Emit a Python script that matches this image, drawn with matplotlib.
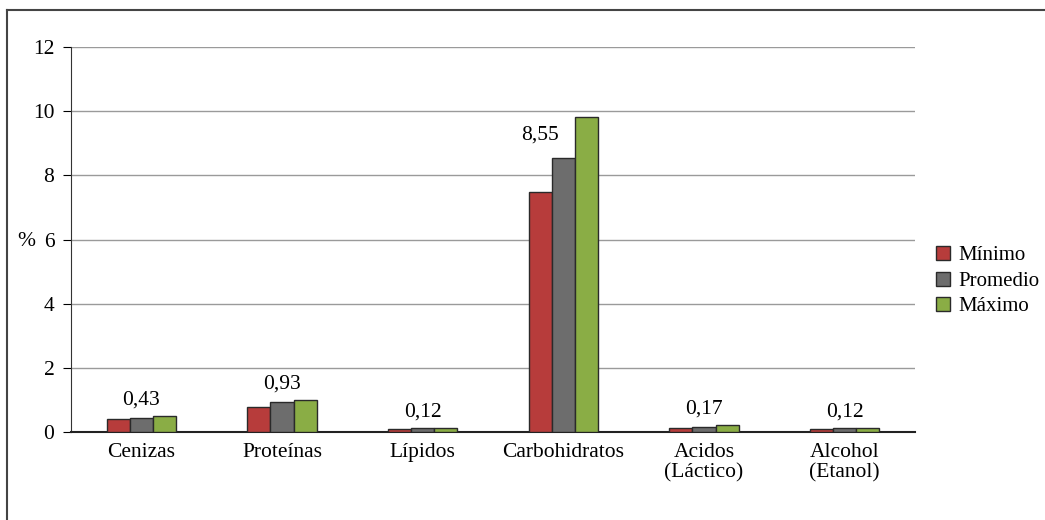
import matplotlib.pyplot as plt
import numpy as np
from matplotlib.lines import Line2D

plt.rcParams['font.family'] = ['Liberation Serif', 'DejaVu Serif']

categorias = ['Cenizas', 'Proteínas', 'Lípidos', 'Carbohidratos', 'Acidos\n(Láctico)', 'Alcohol\n(Etanol)']
minimo = [0.40, 0.78, 0.10, 7.49, 0.13, 0.10]
promedio = [0.43, 0.93, 0.12, 8.55, 0.17, 0.12]
maximo = [0.49, 1.01, 0.14, 9.81, 0.21, 0.14]
etiquetas = ['0,43', '0,93', '0,12', '8,55', '0,17', '0,12']
series = ['Mínimo', 'Promedio', 'Máximo']
colores = ['#B73C3B', '#6D6D6D', '#8AAD45']

fs = 15.5

fig = plt.figure(figsize=(10.45, 5.2), dpi=100)
ax = fig.add_axes([71 / 1045, 1 - 432 / 520, (915 - 71) / 1045, (432 - 47) / 520])

x = np.arange(len(categorias))
w = 0.165
for i, (vals, col) in enumerate(zip([minimo, promedio, maximo], colores)):
    ax.bar(x + (i - 1) * w, vals, w, color=col, edgecolor='#2a2a2a', linewidth=1.0, zorder=3)

# data labels above the "Promedio" bars
for xi, v, lab in zip(x, promedio, etiquetas):
    if v > 5:
        ax.text(xi - 0.03, v + 0.4, lab, ha='right', va='bottom', fontsize=fs)
    else:
        top = max(minimo[xi], promedio[xi], maximo[xi])
        ax.text(xi, top + 0.2, lab, ha='center', va='bottom', fontsize=fs)

ax.set_xlim(-0.5, len(categorias) - 0.5)
ax.set_ylim(0, 12)
ax.set_yticks(range(0, 13, 2))
ax.set_xticks(x)
ax.set_xticklabels(categorias, fontsize=fs, linespacing=1.1)
ax.tick_params(axis='x', length=0, pad=8)
ax.tick_params(axis='y', labelsize=fs, length=6, direction='out', pad=6)
ax.yaxis.grid(True, color='#9a9a9a', linewidth=1.0, zorder=0)
ax.set_axisbelow(True)
for s in ['top', 'right']:
    ax.spines[s].set_visible(False)
ax.spines['left'].set_color('#333333')
ax.spines['bottom'].set_color('#222222')
ax.spines['bottom'].set_linewidth(1.5)

fig.text(17 / 1045, 1 - 241 / 520, '%', fontsize=fs, ha='left', va='center')

handles = [Line2D([], [], marker='s', linestyle='none', markersize=9.5,
                  markerfacecolor=c, markeredgecolor='#2a2a2a') for c in colores]
fig.legend(handles, series, loc='center left', bbox_to_anchor=(933 / 1045, 1 - 281 / 520),
           frameon=False, fontsize=15, handletextpad=0.2, handlelength=1.0,
           labelspacing=0.28, borderaxespad=0, borderpad=0)

# outer frame (top and left only)
fig.add_artist(Line2D([7 / 1045, 1], [1 - 10 / 520, 1 - 10 / 520], color='#444444', linewidth=1.5))
fig.add_artist(Line2D([7 / 1045, 7 / 1045], [0, 1 - 10 / 520], color='#444444', linewidth=1.5))

fig.savefig('out.png', dpi=100)
